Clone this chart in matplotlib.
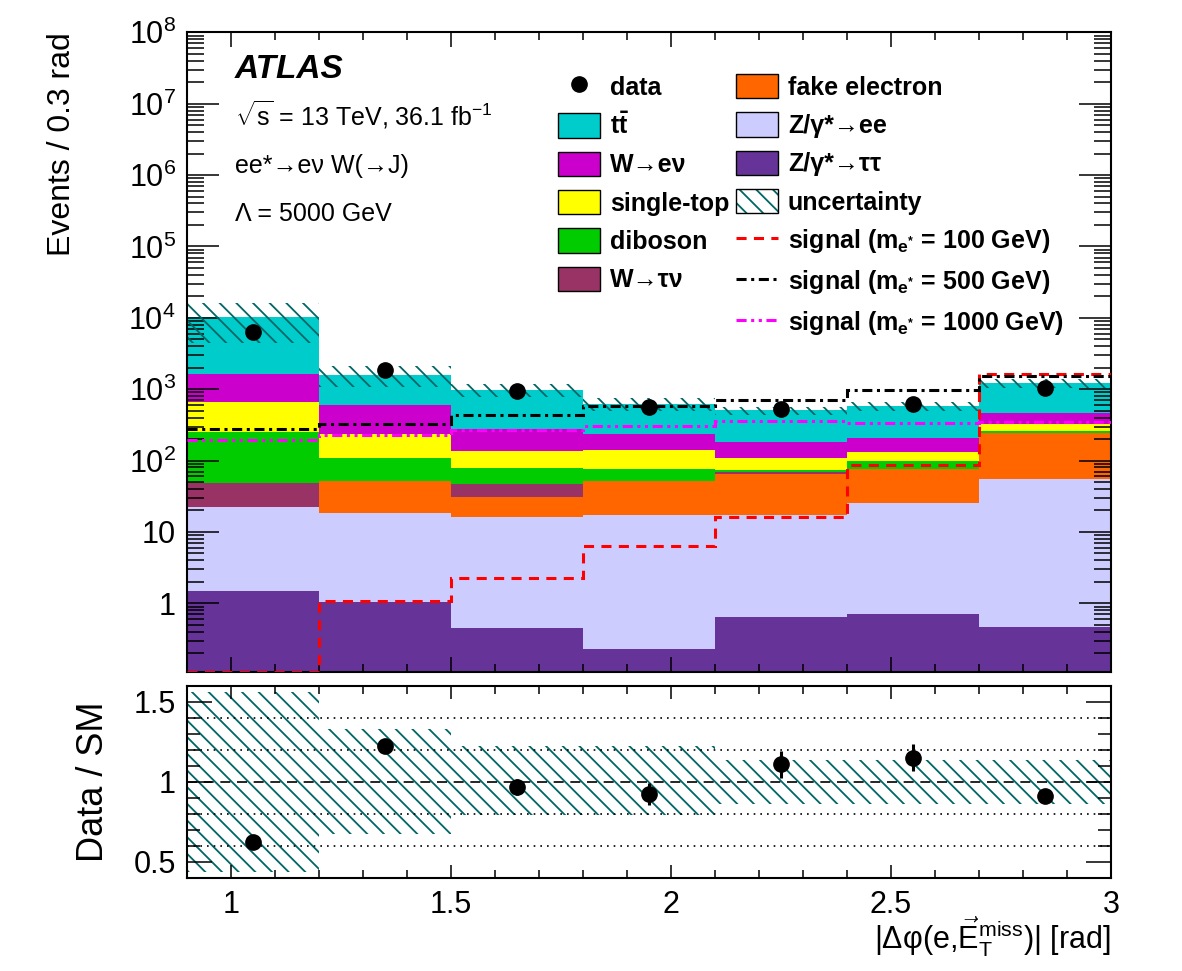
import numpy as np
import matplotlib
matplotlib.use("Agg")
import matplotlib.pyplot as plt
from matplotlib.ticker import MultipleLocator, FuncFormatter, LogLocator, FormatStrFormatter
from matplotlib.patches import Patch
from matplotlib.lines import Line2D

plt.rcParams['font.family'] = ['Liberation Sans', 'DejaVu Sans']
plt.rcParams['mathtext.fontset'] = 'custom'
plt.rcParams['mathtext.rm'] = 'Liberation Sans'
plt.rcParams['mathtext.it'] = 'Liberation Sans'
plt.rcParams['mathtext.bf'] = 'Liberation Sans:bold'
plt.rcParams['hatch.linewidth'] = 1.3

# binning in |dphi(e, MET)| [rad]
bin_edges = [0.9, 1.2, 1.5, 1.8, 2.1, 2.4, 2.7, 3.0]

# backgrounds (events / bin), bottom of the stack first
z_tautau = [1.5, 1.05, 0.45, 0.23, 0.65, 0.72, 0.46]
z_ee = [20.7, 17.3, 16.0, 17.3, 16.4, 24.6, 55.1]
fake_el = [0.0, 33.0, 14.2, 34.5, 48.3, 51.4, 186.0]
w_taunu = [25.8, 0.7, 16.4, 0.5, 3.5, 0.0, 0.0]
diboson = [202.0, 56.0, 31.0, 24.5, 3.8, 23.3, 16.0]
single_top = [407.0, 128.0, 56.0, 63.0, 36.0, 31.0, 70.0]
w_enu = [983.0, 367.0, 144.0, 96.0, 76.0, 75.0, 140.0]
ttbar = [8560.0, 985.0, 701.0, 387.0, 319.0, 374.0, 750.0]

data = [6300.0, 1870.0, 930.0, 560.0, 520.0, 626.0, 1040.0]

# signal predictions
sig_100 = [0.11, 1.09, 2.27, 6.4, 16.1, 88.0, 1614.0]
sig_500 = [278.0, 327.0, 442.0, 590.0, 712.0, 962.0, 1513.0]
sig_1000 = [195.0, 229.0, 264.0, 310.0, 357.0, 339.0, 345.0]

# relative uncertainty band on the SM prediction
unc_lo = [0.433, 0.674, 0.793, 0.793, 0.859, 0.859, 0.859]
unc_hi = [1.56, 1.332, 1.224, 1.224, 1.135, 1.135, 1.135]

# Data / SM
ratio = [0.626, 1.224, 0.969, 0.923, 1.110, 1.152, 0.911]
ratio_err = [0.02, 0.03, 0.05, 0.07, 0.083, 0.083, 0.02]

teal = '#006666'

stack = [
    (z_tautau, '#663399'),
    (z_ee, '#ccccff'),
    (fake_el, '#ff6600'),
    (w_taunu, '#993366'),
    (diboson, '#00cc00'),
    (single_top, '#ffff00'),
    (w_enu, '#cc00cc'),
    (ttbar, '#00cccc'),
]

edges = np.array(bin_edges)
left = edges[:-1]
width = np.diff(edges)
centers = left + width / 2

fig = plt.figure(figsize=(11.82, 9.71), dpi=100)
ax = fig.add_axes([0.1582, 0.3082, 0.7817, 0.6585])
axr = fig.add_axes([0.1582, 0.0961, 0.7817, 0.1974], sharex=ax)

# stacked backgrounds
bottom = np.zeros(len(left))
for vals, col in stack:
    vals = np.array(vals)
    ax.bar(left, vals, width=width, bottom=bottom, align='edge', color=col, linewidth=0, zorder=1)
    bottom = bottom + vals
total = bottom

# uncertainty hatch on top of the stack
ax.bar(left, total * (np.array(unc_hi) - np.array(unc_lo)), width=width, bottom=total * np.array(unc_lo),
       align='edge', fill=False, hatch='\\\\', edgecolor=teal, linewidth=0, zorder=2)

# signals
ax.stairs(sig_100, edges, baseline=None, color='red', lw=2.2, linestyle=(0, (3.3, 2.4)), zorder=3)
ax.stairs(sig_500, edges, baseline=None, color='black', lw=2.2, linestyle=(0, (3.3, 1.5, 1.0, 1.5)), zorder=3)
ax.stairs(sig_1000, edges, baseline=None, color='magenta', lw=2.2,
          linestyle=(0, (3.3, 1.5, 1.0, 1.5, 1.0, 1.5)), zorder=3)

ax.plot(centers, data, 'o', color='black', ms=11, zorder=4)

ax.set_yscale('log')
ax.set_ylim(0.11, 1e8)
ax.set_xlim(0.9, 3.0)


def log_label(v, pos):
    if v == 1:
        return '1'
    if v == 10:
        return '10'
    return r'$10^{%d}$' % round(np.log10(v))


ax.yaxis.set_major_locator(LogLocator(base=10, numticks=20))
ax.yaxis.set_minor_locator(LogLocator(base=10, subs=np.arange(2, 10), numticks=100))
ax.yaxis.set_major_formatter(FuncFormatter(log_label))
ax.yaxis.set_minor_formatter(FuncFormatter(lambda v, p: ''))
ax.xaxis.set_major_locator(MultipleLocator(0.5))
ax.xaxis.set_minor_locator(MultipleLocator(0.1))
ax.tick_params(axis='x', which='both', labelbottom=False)

for a in (ax, axr):
    a.tick_params(which='both', direction='in', top=True, right=True, width=1.1, labelsize=22)
    for s in a.spines.values():
        s.set_linewidth(1.5)
ax.tick_params(axis='y', which='major', length=23, pad=8)
ax.tick_params(axis='y', which='minor', length=12)
ax.tick_params(axis='x', which='major', length=11)
ax.tick_params(axis='x', which='minor', length=5.5)

ax.set_ylabel('Events / 0.3 rad', fontsize=23, loc='top')
ax.yaxis.set_label_coords(-0.119, 1.0)

# text block
ax.text(0.052, 0.928, 'ATLAS', transform=ax.transAxes, fontsize=24, fontweight='bold', style='italic')
ax.text(0.052, 0.855, r'$\sqrt{s}$ = 13 TeV, 36.1 fb$^{-1}$', transform=ax.transAxes, fontsize=18)
ax.text(0.052, 0.78, 'ee*→eν W(→J)', transform=ax.transAxes, fontsize=18)
ax.text(0.052, 0.705, 'Λ = 5000 GeV', transform=ax.transAxes, fontsize=18)

# legend, two columns
h_col1 = [
    Line2D([], [], marker='o', color='black', ls='none', ms=11),
    Patch(facecolor='#00cccc', edgecolor='black', lw=1),
    Patch(facecolor='#cc00cc', edgecolor='black', lw=1),
    Patch(facecolor='#ffff00', edgecolor='black', lw=1),
    Patch(facecolor='#00cc00', edgecolor='black', lw=1),
    Patch(facecolor='#993366', edgecolor='black', lw=1),
]
l_col1 = ['data', r'$\mathbf{t\bar{t}}$', 'W→eν', 'single-top', 'diboson', 'W→τν']
h_col2 = [
    Patch(facecolor='#ff6600', edgecolor='black', lw=1),
    Patch(facecolor='#ccccff', edgecolor='black', lw=1),
    Patch(facecolor='#663399', edgecolor='black', lw=1),
    (Patch(facecolor='white', edgecolor=teal, hatch='\\\\', lw=0), Patch(fill=False, edgecolor='black', lw=1)),
    Line2D([], [], color='red', lw=2.2, linestyle=(0, (3.3, 2.4))),
    Line2D([], [], color='black', lw=2.2, linestyle=(0, (3.3, 1.5, 1.0, 1.5))),
    Line2D([], [], color='magenta', lw=2.2, linestyle=(0, (3.3, 1.5, 1.0, 1.5, 1.0, 1.5))),
]
l_col2 = ['fake electron', 'Z/γ*→ee', 'Z/γ*→ττ', 'uncertainty',
          r'signal ($\mathbf{m_{e^{*}}}$ = 100 GeV)',
          r'signal ($\mathbf{m_{e^{*}}}$ = 500 GeV)',
          r'signal ($\mathbf{m_{e^{*}}}$ = 1000 GeV)']
leg_kw = dict(frameon=False, loc='upper left', borderpad=0, borderaxespad=0,
              handlelength=1.68, handleheight=1.12, handletextpad=0.4, labelspacing=0.51,
              prop={'size': 18, 'weight': 'bold'})
leg1 = ax.legend(h_col1, l_col1, bbox_to_anchor=(0.4015, 0.935), **leg_kw)
ax.add_artist(leg1)
ax.legend(h_col2, l_col2, bbox_to_anchor=(0.594, 0.935), **leg_kw)

# ratio panel
axr.bar(left, np.array(unc_hi) - np.array(unc_lo), width=width, bottom=unc_lo, align='edge',
        fill=False, hatch='\\\\', edgecolor=teal, linewidth=0, zorder=1)
for yv in (0.6, 0.8, 1.2, 1.4):
    axr.axhline(yv, color='black', lw=1.2, linestyle=(0, (1, 3)), zorder=2)
axr.axhline(1.0, color='black', lw=1.2, linestyle=(0, (6, 4)), zorder=2)
axr.errorbar(centers, ratio, yerr=ratio_err, fmt='o', color='black', ms=11, elinewidth=2.2, capsize=0, zorder=4)

axr.set_ylim(0.4, 1.6)
axr.yaxis.set_major_locator(MultipleLocator(0.5))
axr.yaxis.set_minor_locator(MultipleLocator(0.1))
axr.yaxis.set_major_formatter(FormatStrFormatter('%g'))
axr.xaxis.set_major_formatter(FormatStrFormatter('%g'))
axr.tick_params(axis='y', which='major', length=18, pad=8)
axr.tick_params(axis='y', which='minor', length=9.4)
axr.tick_params(axis='x', which='major', length=9.4, pad=9)
axr.tick_params(axis='x', which='minor', length=5.5)

axr.set_ylabel('Data / SM', fontsize=26)
axr.yaxis.set_label_coords(-0.082, 0.5)
axr.set_xlabel(r'|Δφ(e,$\vec{\mathrm{E}}_{\mathrm{T}}^{\mathrm{miss}}$)| [rad]', fontsize=22, loc='right')
axr.xaxis.set_label_coords(1.0, -0.19)

fig.savefig('out.png', dpi=100)
